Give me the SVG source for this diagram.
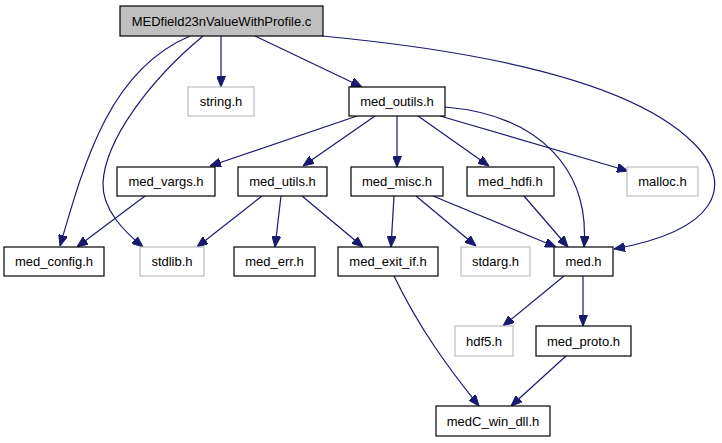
<svg xmlns="http://www.w3.org/2000/svg" width="722" height="443" viewBox="0 0 722 443">
<style>
.n rect{fill:#ffffff;stroke:#000000;stroke-width:1.2}
.g rect{fill:#ffffff;stroke:#bfbfbf;stroke-width:1.2}
.root rect{fill:#bfbfbf;stroke:#000000;stroke-width:1.2}
text{font-family:"Liberation Sans",Arial,sans-serif;font-size:13px;fill:#000000;text-anchor:middle}
.e path{fill:none;stroke:#191970;stroke-width:1.2;marker-end:url(#ah)}
</style>
<defs>
<marker id="ah" viewBox="0 0 11 9" refX="11" refY="4.5" markerWidth="11" markerHeight="9" markerUnits="userSpaceOnUse" orient="auto">
<path d="M0,0 L11,4.5 L0,9 z" fill="#191970" stroke="#191970" stroke-width="1"/>
</marker>
</defs>
<g id="edges" class="e">
<path d="M190,36 C110,70 85,160 60,246"/>
<path d="M203,36 C150,80 105,140 103,183 C102,210 125,232 143,247"/>
<path d="M221,36 L221,87"/>
<path d="M255,36 L362,87"/>
<path d="M322,36 C470,50 640,80 700,150 C730,185 720,230 614,249"/>
<path d="M357,116 L210,166"/>
<path d="M375,116 L303,166"/>
<path d="M397,116 L397,167"/>
<path d="M418,116 L489,166"/>
<path d="M440,116 L628,171"/>
<path d="M445,107 C540,115 590,170 584,247"/>
<path d="M145,196 L77,247"/>
<path d="M262,196 L197,247"/>
<path d="M281,196 L275,247"/>
<path d="M302,196 L363,247"/>
<path d="M394,196 L391,247"/>
<path d="M416,196 L476,246"/>
<path d="M433,196 L556,247"/>
<path d="M524,196 L568,247"/>
<path d="M394,276 C420,330 450,370 479,406"/>
<path d="M564,276 L503,326"/>
<path d="M583,276 L583,326"/>
<path d="M566,356 L511,406"/>
</g>
<g id="root" class="root"><rect x="120" y="6" width="203" height="30"/><text x="221.5" y="25.5">MEDfield23nValueWithProfile.c</text></g>
<g id="string_h" class="g"><rect x="188" y="87" width="66" height="29"/><text x="221" y="106">string.h</text></g>
<g id="med_outils_h" class="n"><rect x="349" y="87" width="96" height="29"/><text x="397" y="106">med_outils.h</text></g>
<g id="med_vargs_h" class="n"><rect x="117" y="167" width="98" height="29"/><text x="166" y="186">med_vargs.h</text></g>
<g id="med_utils_h" class="n"><rect x="238" y="167" width="89" height="29"/><text x="282.5" y="186">med_utils.h</text></g>
<g id="med_misc_h" class="n"><rect x="351" y="167" width="92" height="29"/><text x="397" y="186">med_misc.h</text></g>
<g id="med_hdfi_h" class="n"><rect x="467" y="167" width="87" height="29"/><text x="510.5" y="186">med_hdfi.h</text></g>
<g id="malloc_h" class="g"><rect x="627" y="167" width="71" height="29"/><text x="662.5" y="186">malloc.h</text></g>
<g id="med_config_h" class="n"><rect x="4" y="247" width="100" height="29"/><text x="54" y="266">med_config.h</text></g>
<g id="stdlib_h" class="g"><rect x="140" y="247" width="64" height="29"/><text x="172" y="266">stdlib.h</text></g>
<g id="med_err_h" class="n"><rect x="234" y="247" width="81" height="29"/><text x="274.5" y="266">med_err.h</text></g>
<g id="med_exit_if_h" class="n"><rect x="338" y="247" width="100" height="29"/><text x="388" y="266">med_exit_if.h</text></g>
<g id="stdarg_h" class="g"><rect x="461" y="247" width="69" height="29"/><text x="495.5" y="266">stdarg.h</text></g>
<g id="med_h" class="n"><rect x="554" y="247" width="59" height="29"/><text x="583.5" y="266">med.h</text></g>
<g id="hdf5_h" class="g"><rect x="455" y="326" width="58" height="30"/><text x="484" y="345.5">hdf5.h</text></g>
<g id="med_proto_h" class="n"><rect x="536" y="326" width="95" height="30"/><text x="583.5" y="345.5">med_proto.h</text></g>
<g id="medC_win_dll_h" class="n"><rect x="436" y="406" width="114" height="30"/><text x="493" y="425.5">medC_win_dll.h</text></g>
</svg>
